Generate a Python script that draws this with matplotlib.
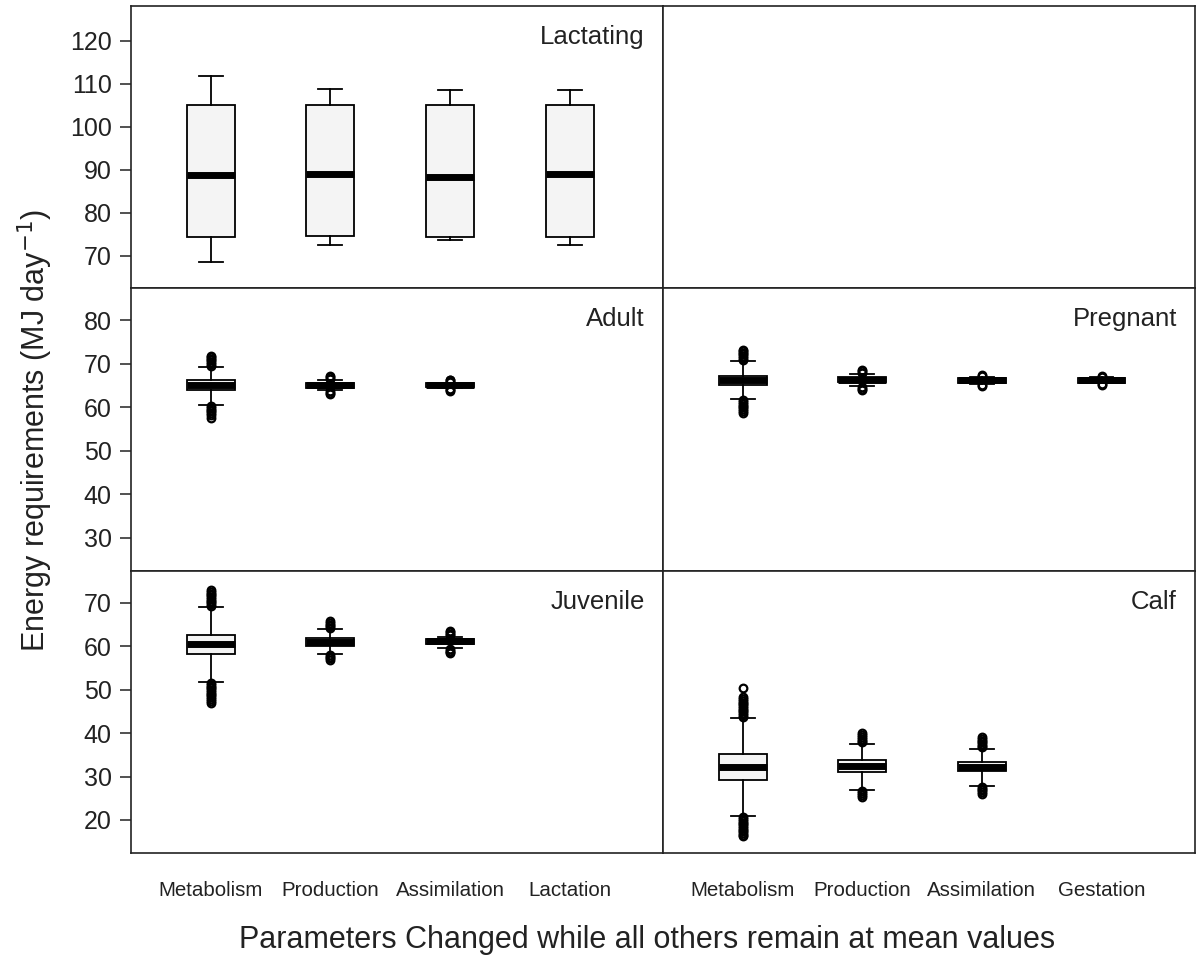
import matplotlib
matplotlib.use("Agg")
import matplotlib.pyplot as plt

plt.rcParams['font.family'] = ['Liberation Sans', 'DejaVu Sans']

# categories
left_cats = ["Metabolism", "Production", "Assimilation", "Lactation"]
right_cats = ["Metabolism", "Production", "Assimilation", "Gestation"]

# Lactating
lact_lo = [68.5, 72.6, 73.7, 72.6]
lact_q1 = [74.3, 74.6, 74.3, 74.3]
lact_med = [88.8, 89.0, 88.4, 89.0]
lact_q3 = [105.0, 105.0, 105.0, 105.0]
lact_hi = [111.8, 108.8, 108.5, 108.5]
lact_fliers = [[], [], [], []]

# Adult
adult_lo = [60.6, 63.9, 64.5]
adult_q1 = [63.9, 64.5, 64.7]
adult_med = [65.1, 65.1, 65.1]
adult_q3 = [66.4, 65.7, 65.5]
adult_hi = [69.3, 66.3, 65.7]
adult_fliers = [
    [69.6, 70.0, 70.4, 70.8, 71.2, 71.6, 71.9, 60.3, 59.9, 59.5, 59.1, 58.7, 58.3, 57.6],
    [66.6, 66.9, 67.2, 63.7, 63.4, 63.1],
    [65.9, 66.2, 66.4, 64.3, 64.0, 63.7],
]

# Pregnant
preg_lo = [61.9, 64.9, 65.4, 65.5]
preg_q1 = [65.2, 65.9, 65.6, 65.7]
preg_med = [66.2, 66.4, 66.2, 66.2]
preg_q3 = [67.2, 66.9, 66.8, 66.7]
preg_hi = [70.7, 67.6, 67.0, 66.9]
preg_fliers = [
    [71.0, 71.4, 71.8, 72.2, 72.6, 73.0, 73.3, 61.6, 61.2, 60.8, 60.4, 60.0, 59.6, 59.2, 58.8],
    [67.9, 68.3, 68.7, 64.6, 64.3, 64.0],
    [67.2, 67.5, 65.2, 64.8],
    [67.0, 67.3, 65.4, 65.1],
]

# Juvenile
juv_lo = [51.8, 58.2, 59.6]
juv_q1 = [58.2, 60.1, 60.6]
juv_med = [60.5, 61.0, 61.1]
juv_q3 = [62.6, 62.0, 61.6]
juv_hi = [69.0, 63.9, 62.2]
juv_fliers = [
    [69.3, 69.7, 70.1, 70.5, 70.9, 71.3, 71.7, 72.1, 72.5, 73.0,
     51.5, 51.1, 50.7, 50.3, 49.9, 49.5, 49.1, 48.7, 48.3, 47.9, 47.5, 46.9],
    [64.2, 64.6, 65.0, 65.4, 65.7, 57.9, 57.5, 57.2, 56.9],
    [62.5, 62.9, 63.2, 63.5, 59.3, 59.0, 58.7, 58.4],
]

# Calf
calf_lo = [21.0, 26.9, 27.9]
calf_q1 = [29.2, 31.0, 31.2]
calf_med = [32.1, 32.4, 32.3]
calf_q3 = [35.1, 33.7, 33.4]
calf_hi = [43.4, 37.6, 36.4]
calf_fliers = [
    [43.8, 44.2, 44.6, 45.0, 45.4, 45.8, 46.2, 46.6, 47.0, 47.4, 47.8, 48.2, 50.5,
     20.6, 20.2, 19.8, 19.4, 19.0, 18.6, 18.2, 17.8, 17.4, 17.0, 16.6, 16.2],
    [37.9, 38.3, 38.7, 39.1, 39.5, 40.0, 26.6, 26.2, 25.8, 25.4],
    [36.7, 37.1, 37.5, 37.9, 38.3, 38.7, 39.2, 27.6, 27.2, 26.8, 26.4, 26.0],
]


def make_stats(lo, q1, med, q3, hi, fl):
    return [dict(whislo=a, q1=b, med=c, q3=d, whishi=e, fliers=f)
            for a, b, c, d, e, f in zip(lo, q1, med, q3, hi, fl)]


fig, axes = plt.subplots(3, 2, figsize=(11.96, 9.57), dpi=100)
fig.subplots_adjust(left=131 / 1196, right=0.999, top=1 - 6 / 957,
                    bottom=1 - 853 / 957, hspace=0, wspace=0)

panels = {
    (0, 0): ("Lactating", make_stats(lact_lo, lact_q1, lact_med, lact_q3, lact_hi, lact_fliers)),
    (1, 0): ("Adult", make_stats(adult_lo, adult_q1, adult_med, adult_q3, adult_hi, adult_fliers)),
    (1, 1): ("Pregnant", make_stats(preg_lo, preg_q1, preg_med, preg_q3, preg_hi, preg_fliers)),
    (2, 0): ("Juvenile", make_stats(juv_lo, juv_q1, juv_med, juv_q3, juv_hi, juv_fliers)),
    (2, 1): ("Calf", make_stats(calf_lo, calf_q1, calf_med, calf_q3, calf_hi, calf_fliers)),
}

row_ylim = [(62.4, 128.1), (22.4, 87.4), (12.4, 77.4)]
row_ticks = [[70, 80, 90, 100, 110, 120], [30, 40, 50, 60, 70, 80],
             [20, 30, 40, 50, 60, 70]]

for r in range(3):
    for c in range(2):
        ax = axes[r, c]
        ax.set_xlim(0.333, 4.78)
        ax.set_ylim(*row_ylim[r])
        for sp in ax.spines.values():
            sp.set_linewidth(1.2)
            sp.set_color('#222222')
        if (r, c) in panels:
            name, stats = panels[(r, c)]
            pos = list(range(1, len(stats) + 1))
            ax.bxp(stats, positions=pos, widths=0.4, patch_artist=True,
                   showfliers=True, manage_ticks=False,
                   boxprops=dict(facecolor='#f4f4f4', edgecolor='black', linewidth=1.3),
                   medianprops=dict(color='black', linewidth=5, solid_capstyle='butt'),
                   whiskerprops=dict(color='black', linewidth=1.3),
                   capprops=dict(color='black', linewidth=1.3),
                   flierprops=dict(marker='o', markersize=5.5, markerfacecolor='none',
                                   markeredgecolor='black', markeredgewidth=1.6))
            ax.annotate(name, xy=(1, 1), xycoords='axes fraction',
                        xytext=(-18, -31), textcoords='offset pixels',
                        ha='right', va='center', fontsize=18.5, color='#222222')
        if c == 0:
            ax.set_yticks(row_ticks[r])
            ax.tick_params(axis='y', direction='out', length=8, width=1.1,
                           labelsize=18, pad=6, colors='#222222')
        else:
            ax.set_yticks([])
        if r == 2:
            cats = left_cats if c == 0 else right_cats
            ax.set_xticks(range(1, len(cats) + 1))
            ax.set_xticklabels(cats)
            ax.tick_params(axis='x', length=0, labelsize=14.8, pad=20,
                           colors='#222222')
        else:
            ax.set_xticks([])

fig.text(35 / 1196, 1 - 430 / 957, r"Energy requirements (MJ day$^{-1}$)",
         rotation=90, ha='center', va='center', fontsize=22, color='#222222')
fig.text(647 / 1196, 1 - 940 / 957,
         "Parameters Changed while all others remain at mean values",
         ha='center', va='center', fontsize=22, color='#222222')

fig.savefig("out.png", dpi=100)
